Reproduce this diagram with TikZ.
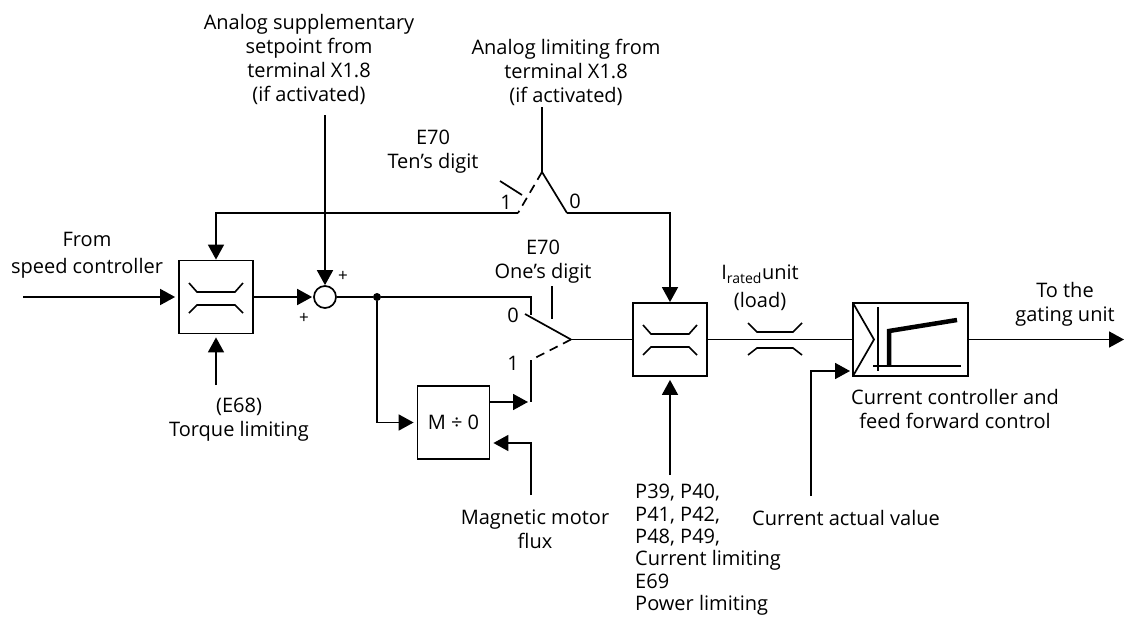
\documentclass[tikz,border=0pt]{standalone}
\usepackage{fontspec}
\setmainfont{Open Sans}
\usetikzlibrary{arrows.meta}
\tikzset{
  conn/.style={line width=1.7pt,line join=miter},
  arr/.style={conn,-{Triangle[length=15pt,width=16pt]}},
  gaparr/.style={arr,shorten >=3pt},
  blockbox/.style={draw,line width=1.8pt,minimum width=74pt,minimum height=73pt,inner sep=0pt},
  lab/.style={align=center,font=\fontsize{20}{24}\selectfont,inner sep=0pt},
  sym/.style={line width=1.6pt},
  dashline/.style={line width=1.7pt,dash pattern=on 9pt off 6pt}
}
\newcommand{\limsym}[2]{%
  \draw[sym] (#1-27,#2-14)--(#1-19,#2-5)--(#1+19,#2-5)--(#1+27,#2-14);
  \draw[sym] (#1-27,#2+16)--(#1-19,#2+8)--(#1+19,#2+8)--(#1+27,#2+16);}
\begin{document}
\begin{tikzpicture}[x=1pt,y=-1pt]
\useasboundingbox (0,0) rectangle (1126,618);
% blocks
\node[blockbox] (L1) at (216,297) {};
\node[blockbox] (L2) at (670,339.5) {};
\node[blockbox,minimum width=72pt] (M) at (453.5,422.5) {\fontsize{20}{24}\selectfont M ÷ 0};
\node[blockbox,minimum width=115pt] (C) at (910.5,339.5) {};
\node[draw,circle,line width=1.7pt,minimum size=22pt,inner sep=0pt] (S) at (325,297) {};
\node[circle,fill=black,minimum size=8pt,inner sep=0pt] (D) at (377,297) {};
\limsym{216}{297}
\limsym{670}{339}
% free ends
\coordinate (inA) at (23,297);
\coordinate (supT) at (325,115);
\coordinate (limT) at (542,107);
\coordinate (pivT) at (542,172);
\coordinate (c1) at (518,213);
\coordinate (c0) at (567,213);
\coordinate (pivO) at (571,339.5);
\coordinate (sw0) at (531,315);
\coordinate (sw1) at (531,360);
\coordinate (torq) at (216,385);
\coordinate (flux) at (531,495);
\coordinate (plim) at (670,475);
\coordinate (act) at (811,496);
\coordinate (out) at (1124,339.5);
% connectors
\draw[gaparr] (inA) -- (L1.west);
\draw[arr] (L1.east) -- ([xshift=-1pt]S.west);
\draw[arr] (supT) -- (S.north);
\draw[conn] (limT) -- (pivT);
\draw[conn] (S.east) -- (D) -- (531,297) -- (sw0);
\draw[gaparr] (D) |- (M.west);
\draw[arr] (c1) -- (216,213) -- (L1.north);
\draw[arr] (c0) -- (670,213) -- (L2.north);
\draw[conn] (pivT) -- (c0);
\draw[dashline] (pivT) -- (c1);
\draw[conn] (500,181) -- (522,195);
\draw[conn] (525,314) -- (pivO);
\draw[dashline] (pivO) -- (sw1);
\draw[conn] (552,286) -- (552,319);
\draw[conn] (sw1) -- (531,402);
\draw[gaparr] (M.east |- 0,402) -- (531,402);
\draw[gaparr] (flux) -- (531,443) -- (M.east |- 0,443);
\draw[conn] (pivO) -- (L2.west);
\draw[gaparr] (torq) -- (L1.south);
\draw[gaparr] (plim) -- (L2.south);
\draw[conn] (L2.east) -- (C.west);
\draw[arr] (C.east) -- (out);
\draw[arr] (act) -- (811,371) -- (850,371);
% small limiter
\draw[sym] (748,323)--(757,332)--(793,332)--(802,323);
\draw[sym] (748,355)--(757,348)--(793,348)--(802,355);
% controller symbol
\draw[conn] (853,303)--(874,339.5)--(853,376);
\draw[conn] (878,307)--(878,371);
\draw[conn] (873,366)--(961,366);
\draw[line width=4.5pt] (889,366)--(889,331)--(957,320);
% labels
\node[lab] (t1) at (309,59) {Analog supplementary\\setpoint from\\terminal X1.8\\(if activated)};
\node[lab] (t2) at (566,72) {Analog limiting from\\terminal X1.8\\(if activated)};
\node[lab] (t3) at (433,152) {E70\\Ten's digit};
\node[lab] (t4) at (543,262) {E70\\One's digit};
\node[lab,font=\fontsize{20}{27}\selectfont] (t5) at (87,255.5) {From\\speed controller};
\node[lab] (t6) at (239,420) {(E68)\\Torque limiting};
\node[lab] (t7) at (535,529.5) {Magnetic motor\\flux};
\node[lab,align=left,anchor=north west,font=\fontsize{20}{22.4}\selectfont] (t8) at (635,484) {P39, P40,\\P41, P42,\\P48, P49,\\Current limiting\\E69\\Power limiting};
\node[lab,anchor=west] (t9) at (752,518) {Current actual value};
\node[lab] (t10) at (1065,304) {To the\\gating unit};
\node[lab] (t11) at (760,288) {I\textsubscript{rated}unit\\[4pt](load)};
\node[lab] (t12) at (955,409) {Current controller and\\feed forward control};
\node[lab] (n1) at (506,202) {1};
\node[lab] (n0) at (575,201) {0};
\node[lab] (n2) at (513,315) {0};
\node[lab] (n3) at (513,363) {1};
\node[lab,font=\fontsize{17}{20}\selectfont] (p1) at (343,276) {+};
\node[lab,font=\fontsize{17}{20}\selectfont] (p2) at (304,318) {+};
\end{tikzpicture}
\end{document}
